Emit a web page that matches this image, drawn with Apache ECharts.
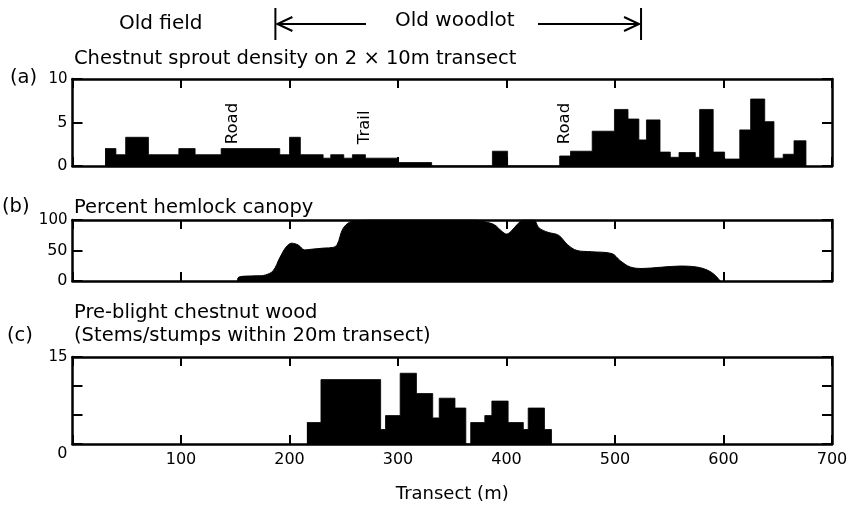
<!DOCTYPE html>
<html>
<head>
<meta charset="utf-8">
<script src="https://cdn.jsdelivr.net/npm/echarts@6/dist/echarts.min.js"></script>
<style>html,body{margin:0;padding:0;background:#fff;}#c{width:858px;height:505px;}</style>
</head>
<body>
<div id="c"></div>
<script>
// ---- data ----
const xTicks = [0, 100, 200, 300, 400, 500, 600, 700];
// (a) chestnut sprout density bins
const sproutStart = [30, 40, 49, 70, 98, 113, 137, 191, 200, 210, 231, 238, 250, 258, 270, 300, 387,
  449, 459, 479, 499.5, 512, 522, 529, 541.5, 551, 559, 574, 578, 590.5, 601, 615, 625, 638, 646.5, 655, 665];
const sproutEnd = [40, 49, 70, 98, 113, 137, 191, 200, 210, 231, 238, 250, 258, 270, 300, 331, 401,
  459, 479, 499.5, 512, 522, 529, 541.5, 551, 559, 574, 578, 590.5, 601, 615, 625, 638, 646.5, 655, 665, 676];
const sproutValue = [2.0, 1.3, 3.3, 1.3, 2.0, 1.3, 2.0, 1.3, 3.3, 1.3, 0.9, 1.3, 0.9, 1.3, 0.9, 0.4, 1.7,
  1.15, 1.7, 4.0, 6.5, 5.4, 3.0, 5.3, 1.6, 1.0, 1.55, 1.0, 6.5, 1.6, 0.8, 4.15, 7.7, 5.1, 0.9, 1.35, 2.9];
const sproutTicks = [0, 5, 10];
// (b) percent hemlock canopy
const hemlockX = [152, 153, 160, 170, 178, 185, 191, 197, 202, 208, 214, 220, 232, 240, 244, 249, 255, 263, 275,
  370, 380, 389, 396, 400, 404, 410, 416, 425, 430, 438, 448, 456, 465, 478, 497, 505, 514, 525, 542, 560, 575, 585, 592, 597];
const hemlockPct = [0, 6, 8, 8.5, 10, 17, 38, 56, 62, 59, 51, 52, 54, 55, 60, 85, 96, 99, 100,
  100, 97, 92, 81, 77, 81, 93, 100, 100, 87, 80, 75, 60, 50, 48, 45, 33, 23, 20.5, 22.5, 24.5, 23, 18, 10, 0];
const hemlockTicks = [0, 50, 100];
// (c) pre-blight chestnut stems/stumps
const woodStart = [216, 229, 284, 288.5, 302, 317, 332, 338, 352.5, 367, 380, 386.5, 401.5, 415.5, 420, 435];
const woodEnd = [229, 284, 288.5, 302, 317, 332, 338, 352.5, 362.5, 380, 386.5, 401.5, 415.5, 420, 435, 441.5];
const woodCount = [3.7, 11.1, 2.5, 4.9, 12.2, 8.7, 4.5, 7.9, 6.2, 3.7, 4.9, 7.4, 3.7, 2.5, 6.2, 2.5];
const woodTicks = [0, 5, 10, 15];
// annotations
const noteText = ['Road', 'Trail', 'Road'];
const noteX = [148, 269, 453.5];
const noteY = [2.5, 2.5, 2.5];
const woodlotStart = 187, woodlotEnd = 524;

const FONT = 'DejaVu Sans';
const chart = echarts.init(document.getElementById('c'), null, {renderer: 'canvas'});

const grids = [
  {left: 72.5, right: 26, top: 79, height: 87},
  {left: 72.5, right: 26, top: 220, height: 61},
  {left: 72.5, right: 26, top: 357, height: 87}
];
const axisLine = {show: true, onZero: false, lineStyle: {color: '#000', width: 2.5}};
function xAx(g, pos, labels) {
  return {
    type: 'value', gridIndex: g, position: pos, min: xTicks[0], max: xTicks[xTicks.length - 1], interval: xTicks[1] - xTicks[0],
    axisLine: axisLine, splitLine: {show: false},
    axisTick: {show: true, inside: true, length: 9, lineStyle: {color: '#000', width: 2}},
    axisLabel: labels ? {show: true, color: '#000', fontFamily: FONT, fontSize: 16, margin: 8,
      formatter: v => v === 0 ? '' : String(v)} : {show: false}
  };
}
function yAx(g, pos, ticks, fmt, rich) {
  return {
    type: 'value', gridIndex: g, position: pos, min: ticks[0], max: ticks[ticks.length - 1], interval: ticks[1] - ticks[0],
    axisLine: axisLine, splitLine: {show: false},
    axisTick: {show: true, inside: true, length: 10, lineStyle: {color: '#000', width: 2}},
    axisLabel: fmt ? {show: true, color: '#000', fontFamily: FONT, fontSize: 16, margin: 5, formatter: fmt, rich: rich} : {show: false}
  };
}
// histogram outline points for a step line: [start, value] ... with zero points across gaps
function histPoints(start, end, val) {
  const pts = [];
  for (let i = 0; i < start.length; i++) {
    if (i > 0 && start[i] > end[i - 1]) pts.push([end[i - 1], 0]);
    pts.push([start[i], val[i]]);
  }
  pts.push([end[end.length - 1], 0]);
  return pts;
}
function histSeries(xi, yi, start, end, val) {
  return {type: 'line', xAxisIndex: xi, yAxisIndex: yi, step: 'end', symbol: 'none',
    lineStyle: {color: '#000', width: 0.8}, areaStyle: {color: '#000', opacity: 1},
    data: histPoints(start, end, val), z: 3};
}
function txt(text, x, y, size) {
  return {type: 'text', x: x, y: y, style: {text: text, fontFamily: FONT, fontSize: size || 19.5, fill: '#000', align: 'left', verticalAlign: 'middle'}};
}

chart.setOption({
  animation: false,
  backgroundColor: '#fff',
  grid: grids,
  xAxis: [xAx(0, 'bottom', false), xAx(0, 'top', false), xAx(1, 'bottom', false), xAx(1, 'top', false),
    Object.assign(xAx(2, 'bottom', true), {name: 'Transect (m)', nameLocation: 'middle', nameGap: 41,
      nameTextStyle: {color: '#000', fontFamily: FONT, fontSize: 18}}), xAx(2, 'top', false)],
  yAxis: [
    yAx(0, 'left', sproutTicks, v => v === 10 ? '{s|10}' : String(v), {s: {fontSize: 15, fontFamily: FONT, color: '#000'}}),
    yAx(0, 'right', sproutTicks, null),
    yAx(1, 'left', hemlockTicks, v => v === 100 ? '{s|100}' : String(v), {s: {fontSize: 15, fontFamily: FONT, color: '#000'}}),
    yAx(1, 'right', hemlockTicks, null),
    yAx(2, 'left', woodTicks, v => v === 15 ? '{s|15}' : (v === 0 ? '{d|0}' : ''),
      {s: {fontSize: 15, fontFamily: FONT, color: '#000'}, d: {fontSize: 16, fontFamily: FONT, color: '#000', padding: [20, 0, 0, 0]}}),
    yAx(2, 'right', woodTicks, null)
  ],
  series: [
    histSeries(0, 0, sproutStart, sproutEnd, sproutValue),
    {type: 'line', xAxisIndex: 2, yAxisIndex: 2, smooth: 0.35, symbol: 'none',
      lineStyle: {color: '#000', width: 1}, areaStyle: {color: '#000', opacity: 1},
      data: hemlockX.map((x, i) => [x, hemlockPct[i]]), z: 3},
    histSeries(4, 4, woodStart, woodEnd, woodCount)
  ]
});

// annotations positioned through the axes
const gfx = [];
gfx.push(txt('Old field', 119, 23.5, 20));
gfx.push(txt('Old woodlot', 395, 20.5, 20));
gfx.push(txt('(a)', 10, 78));
gfx.push(txt('Chestnut sprout density on 2 × 10m transect', 74, 59));
gfx.push(txt('(b)', 2, 207));
gfx.push(txt('Percent hemlock canopy', 74, 207.5));
gfx.push(txt('(c)', 7, 336));
gfx.push(txt('Pre-blight chestnut wood', 74, 312.5));
gfx.push(txt('(Stems/stumps within 20m transect)', 74, 336));
const xL = chart.convertToPixel({xAxisIndex: 0}, woodlotStart);
const xR = chart.convertToPixel({xAxisIndex: 0}, woodlotEnd);
const ls = {stroke: '#000', lineWidth: 2, fill: 'none'};
gfx.push({type: 'line', shape: {x1: xL, y1: 8, x2: xL, y2: 40}, style: ls});
gfx.push({type: 'line', shape: {x1: xR, y1: 8, x2: xR, y2: 40}, style: ls});
gfx.push({type: 'line', shape: {x1: xL + 2, y1: 24, x2: 366, y2: 24}, style: ls});
gfx.push({type: 'line', shape: {x1: 538, y1: 24, x2: xR - 2, y2: 24}, style: ls});
gfx.push({type: 'polyline', shape: {points: [[xL + 17, 17], [xL + 2, 24], [xL + 17, 31]]}, style: ls});
gfx.push({type: 'polyline', shape: {points: [[xR - 17, 17], [xR - 2, 24], [xR - 17, 31]]}, style: ls});
noteText.forEach((t, i) => {
  const p = chart.convertToPixel({xAxisIndex: 0, yAxisIndex: 0}, [noteX[i], noteY[i]]);
  gfx.push({type: 'text', x: p[0], y: p[1], rotation: Math.PI / 2,
    style: {text: t, fontFamily: FONT, fontSize: 16.5, fill: '#000', align: 'left', verticalAlign: 'middle'}, z: 10});
});
chart.setOption({graphic: gfx});
</script>
</body>
</html>
